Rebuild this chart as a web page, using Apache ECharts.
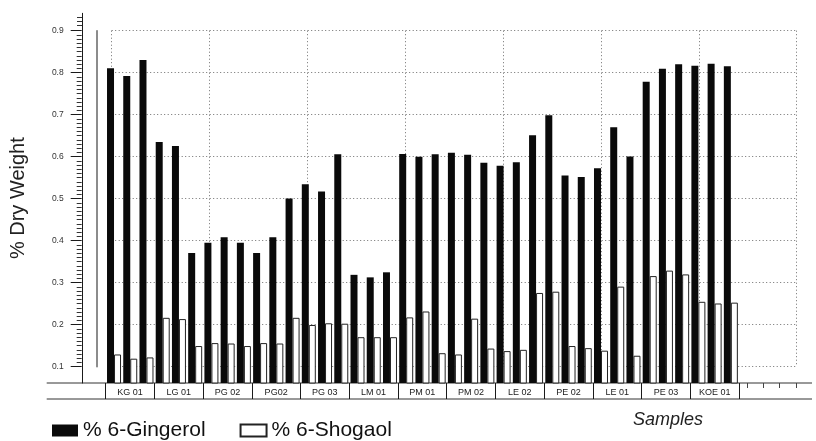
<!DOCTYPE html>
<html>
<head>
<meta charset="utf-8">
<script src="https://cdn.jsdelivr.net/npm/echarts@6.0.0/dist/echarts.min.js"></script>
<style>
  html, body { margin: 0; padding: 0; background: #fff; }
  #chart { width: 816px; height: 441px; }
</style>
</head>
<body>
<div id="chart"></div>
<script>
// Sample groups, three replicates each
const groups = ['KG 01', 'LG 01', 'PG 02', 'PG02', 'PG 03', 'LM 01', 'PM 01', 'PM 02', 'LE 02', 'PE 02', 'LE 01', 'PE 03', 'KOE 01'];
const replicates = 3;
const paddingSlots = 4; // empty slots after the last sample

// % dry weight per replicate
const gingerol = [
  0.808, 0.790, 0.828,
  0.633, 0.624, 0.370,
  0.394, 0.407, 0.394,
  0.370, 0.407, 0.499,
  0.533, 0.516, 0.604,
  0.318, 0.312, 0.324,
  0.605, 0.598, 0.604,
  0.608, 0.603, 0.584,
  0.577, 0.585, 0.649,
  0.697, 0.554, 0.550,
  0.571, 0.668, 0.599,
  0.776, 0.807, 0.818,
  0.814, 0.819, 0.813
];
const shogaol = [
  0.129, 0.119, 0.122,
  0.216, 0.213, 0.149,
  0.156, 0.155, 0.149,
  0.156, 0.155, 0.216,
  0.199, 0.203, 0.202,
  0.170, 0.170, 0.170,
  0.217, 0.231, 0.132,
  0.129, 0.214, 0.143,
  0.137, 0.140, 0.275,
  0.278, 0.149, 0.144,
  0.138, 0.290, 0.126,
  0.315, 0.328, 0.319,
  0.254, 0.250, 0.252
];

// Y tick labels
const yTicks = [0.1, 0.2, 0.3, 0.4, 0.5, 0.6, 0.7, 0.8, 0.9];
// fine ticks continuing above the top label
const topFineTicks = [0.91, 0.92, 0.93];

const sampleSlots = [];
groups.forEach(g => { for (let r = 1; r <= replicates; r++) sampleSlots.push(g + ' #' + r); });
const nSamples = sampleSlots.length;
for (let i = 0; i < paddingSlots; i++) sampleSlots.push('');

const yMin = 0.0613, yMax = 0.9387;
const ink = '#1a1a1a';
const dots = { color: '#6e6e6e', width: 1, type: [1, 2.5] };
const font = '"Liberation Sans", Arial, sans-serif';

const chart = echarts.init(document.getElementById('chart'), null, { renderer: 'canvas' });
chart.setOption({
  animation: false,
  backgroundColor: '#ffffff',
  grid: [
    { left: 105.6, right: 12.1, top: 13.3, bottom: 58 },     // bars
    { left: 111.7, right: 19.3, top: 30.7, bottom: 74.3 },   // dotted frame, 0.1 .. 0.9
    { left: 105.6, right: 77, top: 13.3, bottom: 58 }        // group labels
  ],
  xAxis: [
    {
      type: 'category', gridIndex: 0, data: sampleSlots, boundaryGap: true, position: 'bottom',
      axisLine: { show: false },
      axisTick: { show: true, alignWithLabel: true, length: 5,
        interval: (idx) => idx >= nSamples,
        lineStyle: { color: '#444', width: 1 } },
      axisLabel: { show: false },
      splitLine: { show: false }
    },
    {
      type: 'value', gridIndex: 1, min: 0, max: 7, interval: 1, position: 'bottom',
      axisLine: { show: false, onZero: false }, axisTick: { show: false }, axisLabel: { show: false },
      splitLine: { show: true, showMinLine: true, showMaxLine: true, lineStyle: dots }
    },
    {
      type: 'category', gridIndex: 2, data: groups, boundaryGap: true, position: 'bottom',
      axisLine: { show: false },
      axisTick: { show: true, interval: 0, length: 16, lineStyle: { color: ink, width: 1 } },
      axisLabel: { show: true, interval: 0, margin: 5, fontSize: 9, color: ink, fontFamily: font },
      splitLine: { show: false }
    }
  ],
  yAxis: [
    {
      // main value axis for the bars
      type: 'value', gridIndex: 0, position: 'left', min: yMin, max: yMax, offset: 23.9,
      name: '% Dry Weight', nameLocation: 'middle', nameGap: 54,
      nameTextStyle: { fontSize: 20, color: '#222', fontFamily: font },
      axisLine: { show: true, onZero: false, lineStyle: { color: ink, width: 1 } },
      axisTick: { show: true, length: 5, customValues: topFineTicks, lineStyle: { color: '#333', width: 1 } },
      axisLabel: { show: false },
      splitLine: { show: false }
    },
    {
      // labelled ticks with fine subdivisions
      type: 'value', gridIndex: 1, position: 'left', min: 0.1, max: 0.9, interval: 0.1, offset: 30,
      axisLine: { show: false, onZero: false },
      axisTick: { show: true, length: 11, lineStyle: { color: ink, width: 1 } },
      minorTick: { show: true, splitNumber: 10, length: 5, lineStyle: { color: '#333', width: 1 } },
      axisLabel: { show: true, margin: 18, fontSize: 8.5, color: '#333', fontFamily: font,
        customValues: yTicks, formatter: v => v.toFixed(1) },
      splitLine: { show: false }
    },
    {
      // dotted horizontal rules and the thin inner frame line
      type: 'value', gridIndex: 1, position: 'left', min: 0.1, max: 0.9, interval: 0.1, offset: 14.7,
      axisLine: { show: true, onZero: false, lineStyle: { color: '#666', width: 1.5 } },
      axisTick: { show: false }, axisLabel: { show: false },
      splitLine: { show: true, showMinLine: true, showMaxLine: true, lineStyle: dots }
    },
    {
      type: 'value', gridIndex: 2, position: 'left', min: yMin, max: yMax, show: false
    }
  ],
  legend: {
    left: 52, top: 420, padding: 0, itemGap: 34,
    icon: 'rect', itemWidth: 26, itemHeight: 12,
    textStyle: { fontSize: 21, color: '#111', fontFamily: font },
    data: ['% 6-Gingerol', '% 6-Shogaol']
  },
  graphic: [
    { type: 'line', shape: { x1: 46.7, y1: 383, x2: 812, y2: 383 }, style: { stroke: '#333', lineWidth: 1 } },
    { type: 'line', shape: { x1: 46.7, y1: 399, x2: 812, y2: 399 }, style: { stroke: '#333', lineWidth: 1 } },
    { type: 'text', left: 633, top: 411,
      style: { text: 'Samples', fontSize: 18, fontStyle: 'italic', fill: '#222', fontFamily: font } }
  ],
  series: [
    {
      name: '% 6-Gingerol', type: 'bar', xAxisIndex: 0, yAxisIndex: 0,
      data: gingerol, barWidth: 7, barGap: 0, clip: true,
      itemStyle: { color: '#0a0a0a' }
    },
    {
      name: '% 6-Shogaol', type: 'bar', xAxisIndex: 0, yAxisIndex: 0,
      data: shogaol, barWidth: 7, barGap: 0, clip: true,
      itemStyle: { color: '#ffffff', borderColor: '#222', borderWidth: 1 }
    }
  ]
});
</script>
</body>
</html>
